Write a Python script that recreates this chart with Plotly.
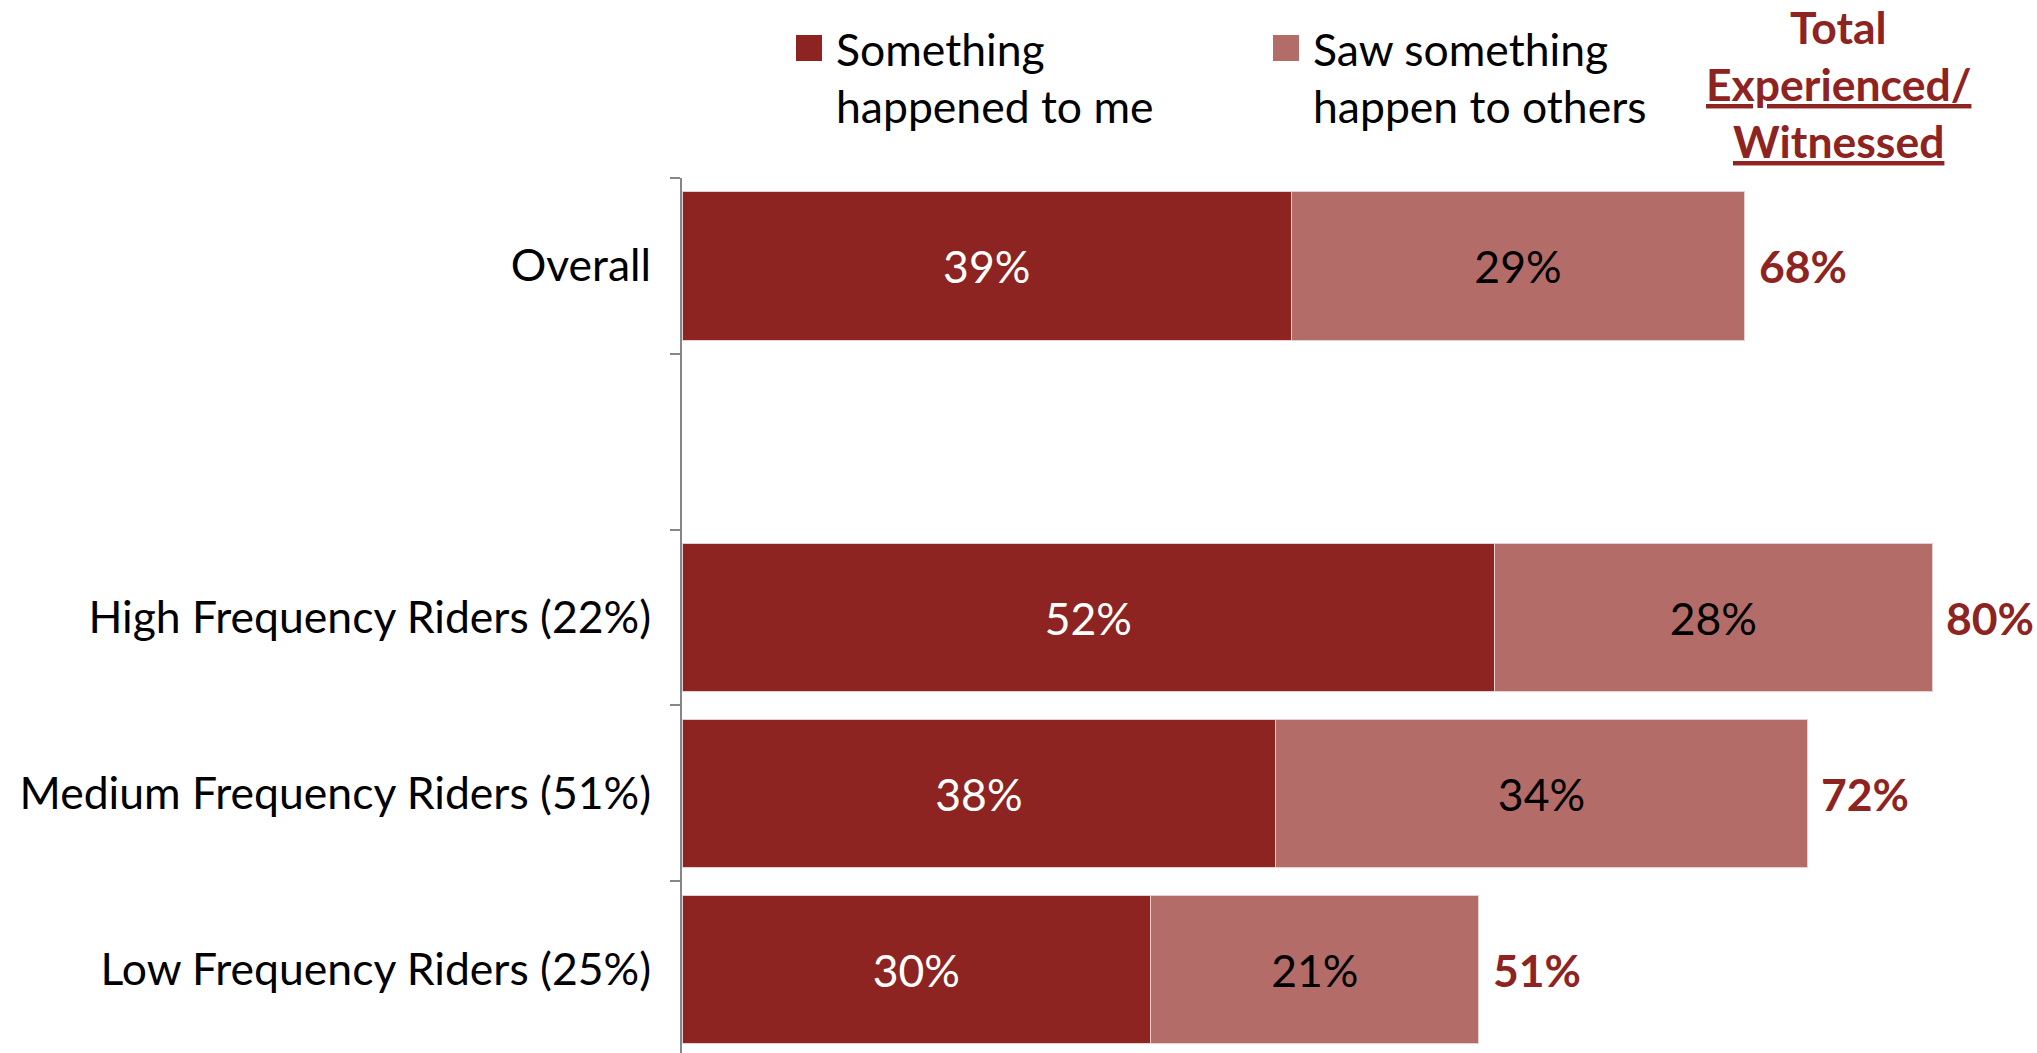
import plotly.graph_objects as go

# Survey results: share of riders who experienced or witnessed an incident
categories = [
    "Overall",
    " ",
    "High Frequency Riders (22%)",
    "Medium Frequency Riders (51%)",
    "Low Frequency Riders (25%)",
]
happened_to_me = [39, None, 52, 38, 30]
saw_others = [29, None, 28, 34, 21]
totals = [68, None, 80, 72, 51]

series_names = ["Something happened to me", "Saw something happen to others"]

DARK = "#8E2421"
LIGHT = "#B46C69"
GREY = "#868686"
FONT = "Lato"
FS = 44.5

W, H = 2037, 1053
L, R, T, B = 682, 33, 178, 0
PW, PH = W - L - R, H - T - B


def px(x):
    return (x - L) / PW


def py(y):
    return (H - B - y) / PH


fig = go.Figure()

fig.add_trace(go.Bar(
    y=categories, x=happened_to_me, orientation="h", name=series_names[0],
    marker=dict(color=DARK, line=dict(color="#E8D0D0", width=1)),
    texttemplate="%{x}%", textposition="inside", insidetextanchor="middle",
    textangle=0, textfont=dict(family=FONT, size=FS, color="white"),
    showlegend=False,
))
fig.add_trace(go.Bar(
    y=categories, x=saw_others, orientation="h", name=series_names[1],
    marker=dict(color=LIGHT, line=dict(color="#E8D0D0", width=1)),
    texttemplate="%{x}%", textposition="inside", insidetextanchor="middle",
    textangle=0, textfont=dict(family=FONT, size=FS, color="black"),
    showlegend=False,
))

annotations = []
# Totals to the right of each stacked bar
for cat, tot in zip(categories, totals):
    if tot is None:
        continue
    annotations.append(dict(
        x=tot, y=cat, xref="x", yref="y", text=f"<b>{tot}%</b>",
        showarrow=False, xanchor="left", xshift=12,
        font=dict(family=FONT, size=FS, color=DARK),
    ))

# Legend drawn at the top
shapes = []
legend_items = [
    (796, DARK, ["Something", "happened to me"]),
    (1273, LIGHT, ["Saw something", "happen to others"]),
]
for x0, col, lines in legend_items:
    shapes.append(dict(type="rect", xref="paper", yref="paper",
                       x0=px(x0), x1=px(x0 + 26), y0=py(61), y1=py(35),
                       fillcolor=col, line=dict(width=0)))
    for i, line in enumerate(lines):
        annotations.append(dict(
            x=px(x0 + 38), y=py(48 + 57 * i), xref="paper", yref="paper",
            text=line, showarrow=False, xanchor="left", yanchor="middle",
            font=dict(family=FONT, size=FS, color="black"),
        ))

header = [("Total", False), ("Experienced/", True), ("Witnessed", True)]
for i, (line, under) in enumerate(header):
    f = dict(family=FONT, size=FS, color=DARK, weight="bold")
    if under:
        f["lineposition"] = "under"
    annotations.append(dict(
        x=px(1838), y=py(26 + 57 * i), xref="paper", yref="paper",
        text=line, showarrow=False, xanchor="center", yanchor="middle",
        font=f,
    ))

fig.update_layout(
    width=W, height=H,
    margin=dict(l=L, r=R, t=T, b=B, pad=0),
    barmode="stack", bargap=0.157,
    plot_bgcolor="white", paper_bgcolor="white",
    annotations=annotations, shapes=shapes,
    xaxis=dict(visible=False, range=[0, 84.6], fixedrange=True),
    yaxis=dict(
        type="category", categoryorder="array", categoryarray=categories,
        range=[4.477, -0.5], tickson="boundaries",
        ticks="outside", ticklen=10, tickwidth=2, tickcolor=GREY,
        showline=True, linecolor=GREY, linewidth=2, showgrid=False,
        zeroline=False, ticklabelstandoff=20,
        tickfont=dict(family=FONT, size=FS, color="black"),
    ),
)

fig.write_html("out.html")
